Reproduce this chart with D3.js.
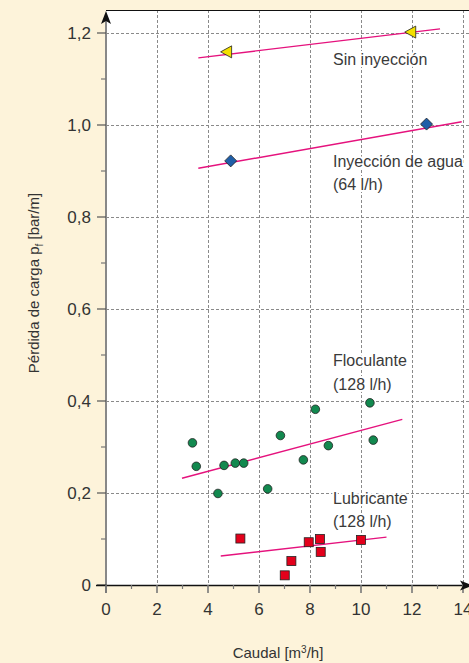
<!DOCTYPE html>
<html>
<head>
<meta charset="utf-8">
<script src="https://cdn.jsdelivr.net/npm/d3@7"></script>
<style>
  body { margin: 0; background: #fdf3da; }
  svg { display: block; }
  text { font-family: "Liberation Sans Narrow", "Arial Narrow", "Liberation Sans", sans-serif; fill: #333; }
</style>
</head>
<body>
<div id="chart"></div>
<script>
// data (x: caudal m3/h, y: bar/m)
const sinInyeccion = [[4.73, 1.159], [11.95, 1.202]];
const sinInyeccionFit = [[3.62, 1.146], [13.1, 1.209]];

const aguaPts = [[4.89, 0.922], [12.57, 1.002]];
const aguaFit = [[3.62, 0.906], [13.95, 1.007]];

const floculantePts = [
  [3.39, 0.309], [3.54, 0.258], [4.39, 0.199], [4.63, 0.260], [5.07, 0.265],
  [5.40, 0.265], [6.34, 0.209], [6.84, 0.325], [7.74, 0.272], [8.21, 0.382],
  [8.72, 0.303], [10.35, 0.396], [10.48, 0.315]
];
const floculanteFit = [[2.98, 0.232], [11.62, 0.360]];

const lubricantePts = [
  [5.27, 0.101], [7.27, 0.052], [7.01, 0.021], [7.95, 0.093],
  [8.39, 0.100], [8.42, 0.072], [10.0, 0.098]
];
const lubricanteFit = [[4.50, 0.063], [11.0, 0.104]];

const xTicks = [0, 2, 4, 6, 8, 10, 12, 14];
const yTicks = [0, 0.2, 0.4, 0.6, 0.8, 1.0, 1.2];

const W = 469, H = 663;
const plotLeft = 106, plotTop = 10, plotBottom = 585;

const svg = d3.select("#chart").append("svg")
  .attr("width", W)
  .attr("height", H);

const x = d3.scaleLinear().domain([0, 14]).range([plotLeft, 463]);
const y = d3.scaleLinear().domain([0, 1.2]).range([plotBottom, 33]);

// plot background
svg.append("rect")
  .attr("x", plotLeft).attr("y", plotTop)
  .attr("width", W - plotLeft).attr("height", plotBottom - plotTop)
  .attr("fill", "#fff");

// grid
const grid = svg.append("g").attr("stroke", "#8a8a8a").attr("stroke-width", 1).attr("stroke-dasharray", "3,2");
grid.selectAll(".vg").data(xTicks.filter(d => d > 0)).enter().append("line")
  .attr("x1", d => Math.round(x(d)) + 0.5).attr("x2", d => Math.round(x(d)) + 0.5)
  .attr("y1", plotTop).attr("y2", plotBottom);
grid.selectAll(".hg").data(yTicks.filter(d => d > 0)).enter().append("line")
  .attr("y1", d => Math.round(y(d)) + 0.5).attr("y2", d => Math.round(y(d)) + 0.5)
  .attr("x1", plotLeft).attr("x2", W);

// top border
svg.append("line").attr("x1", plotLeft).attr("x2", W).attr("y1", plotTop + 0.5).attr("y2", plotTop + 0.5)
  .attr("stroke", "#111").attr("stroke-width", 1.2);

// y axis
svg.append("line").attr("x1", plotLeft).attr("x2", plotLeft).attr("y1", plotTop + 4).attr("y2", plotBottom + 8)
  .attr("stroke", "#888").attr("stroke-width", 2);
svg.selectAll(".ytick").data(d3.range(0, 13)).enter().append("line")
  .attr("x1", d => d % 2 === 0 ? plotLeft - 9 : plotLeft - 5).attr("x2", plotLeft)
  .attr("y1", d => y(d / 10)).attr("y2", d => y(d / 10))
  .attr("stroke", d => d % 2 === 0 ? "#555" : "#777").attr("stroke-width", 1.2);
svg.selectAll(".ylab").data(yTicks).enter().append("text")
  .attr("x", plotLeft - 15).attr("y", d => y(d) + 6)
  .attr("text-anchor", "end").attr("font-size", 17)
  .text(d => d === 0 ? "0" : d3.format(".1f")(d).replace(".", ","));

// x axis
svg.append("line").attr("x1", plotLeft - 10).attr("x2", W).attr("y1", plotBottom + 0.5).attr("y2", plotBottom + 0.5)
  .attr("stroke", "#111").attr("stroke-width", 1.5);
svg.selectAll(".xtick").data(d3.range(0, 15)).enter().append("line")
  .attr("x1", d => x(d)).attr("x2", d => x(d))
  .attr("y1", plotBottom).attr("y2", d => d % 2 === 0 ? plotBottom + 8 : plotBottom + 4)
  .attr("stroke", "#777").attr("stroke-width", d => d % 2 === 0 ? 1.6 : 1.2);
svg.selectAll(".xlab").data(xTicks).enter().append("text")
  .attr("x", d => x(d)).attr("y", plotBottom + 30)
  .attr("text-anchor", "middle").attr("font-size", 17)
  .text(d => d);

// arrows
svg.append("path")
  .attr("d", `M${plotLeft},${plotTop + 1} L${plotLeft - 5},${plotTop + 14} L${plotLeft},${plotTop + 11} L${plotLeft + 5},${plotTop + 14} Z`)
  .attr("fill", "#111");
svg.append("path")
  .attr("d", `M${W + 4},${plotBottom + 0.5} L${W - 9},${plotBottom - 4.5} L${W - 6},${plotBottom + 0.5} L${W - 9},${plotBottom + 5.5} Z`)
  .attr("fill", "#111");

// axis titles
svg.append("text")
  .attr("x", 278).attr("y", 658)
  .attr("text-anchor", "middle").attr("font-size", 15)
  .html('Caudal [m<tspan dy="-5" font-size="10">3</tspan><tspan dy="5">/h]</tspan>');
svg.append("text")
  .attr("transform", "translate(39,283) rotate(-90)")
  .attr("text-anchor", "middle").attr("font-size", 15)
  .html('Pérdida de carga p<tspan dy="4" font-size="10">f</tspan><tspan dy="-4"> [bar/m]</tspan>');

// fit lines
const line = d3.line().x(d => x(d[0])).y(d => y(d[1]));
[sinInyeccionFit, aguaFit, floculanteFit, lubricanteFit].forEach(fit => {
  svg.append("path").datum(fit).attr("d", line)
    .attr("fill", "none").attr("stroke", "#e5127d").attr("stroke-width", 1.4);
});

// markers
const marks = svg.append("g").attr("stroke", "#222").attr("stroke-width", 0.8);
marks.selectAll(".tri").data(sinInyeccion).enter().append("path")
  .attr("transform", d => `translate(${x(d[0])},${y(d[1])})`)
  .attr("d", "M-6,0 L5,-6 L5,6 Z")
  .attr("fill", "#f3e000");
marks.selectAll(".dia").data(aguaPts).enter().append("path")
  .attr("transform", d => `translate(${x(d[0])},${y(d[1])})`)
  .attr("d", "M0,-6 L6,0 L0,6 L-6,0 Z")
  .attr("fill", "#1f5ea8");
marks.selectAll(".circ").data(floculantePts).enter().append("circle")
  .attr("cx", d => x(d[0])).attr("cy", d => y(d[1])).attr("r", 4.3)
  .attr("fill", "#12894f");
marks.selectAll(".sq").data(lubricantePts).enter().append("rect")
  .attr("x", d => x(d[0]) - 4.5).attr("y", d => y(d[1]) - 4.5)
  .attr("width", 9).attr("height", 9)
  .attr("fill", "#e3001b");

// series labels
const labels = [
  ["Sin inyección", 65],
  ["Inyección de agua", 167],
  ["(64 l/h)", 190],
  ["Floculante", 366],
  ["(128 l/h)", 390],
  ["Lubricante", 504],
  ["(128 l/h)", 527]
];
svg.selectAll(".lab").data(labels).enter().append("text")
  .attr("x", 333).attr("y", d => d[1])
  .attr("font-size", 16)
  .attr("stroke", "#fff").attr("stroke-width", 4).attr("paint-order", "stroke")
  .style("fill", "#3a3a3a")
  .text(d => d[0]);
</script>
</body>
</html>
